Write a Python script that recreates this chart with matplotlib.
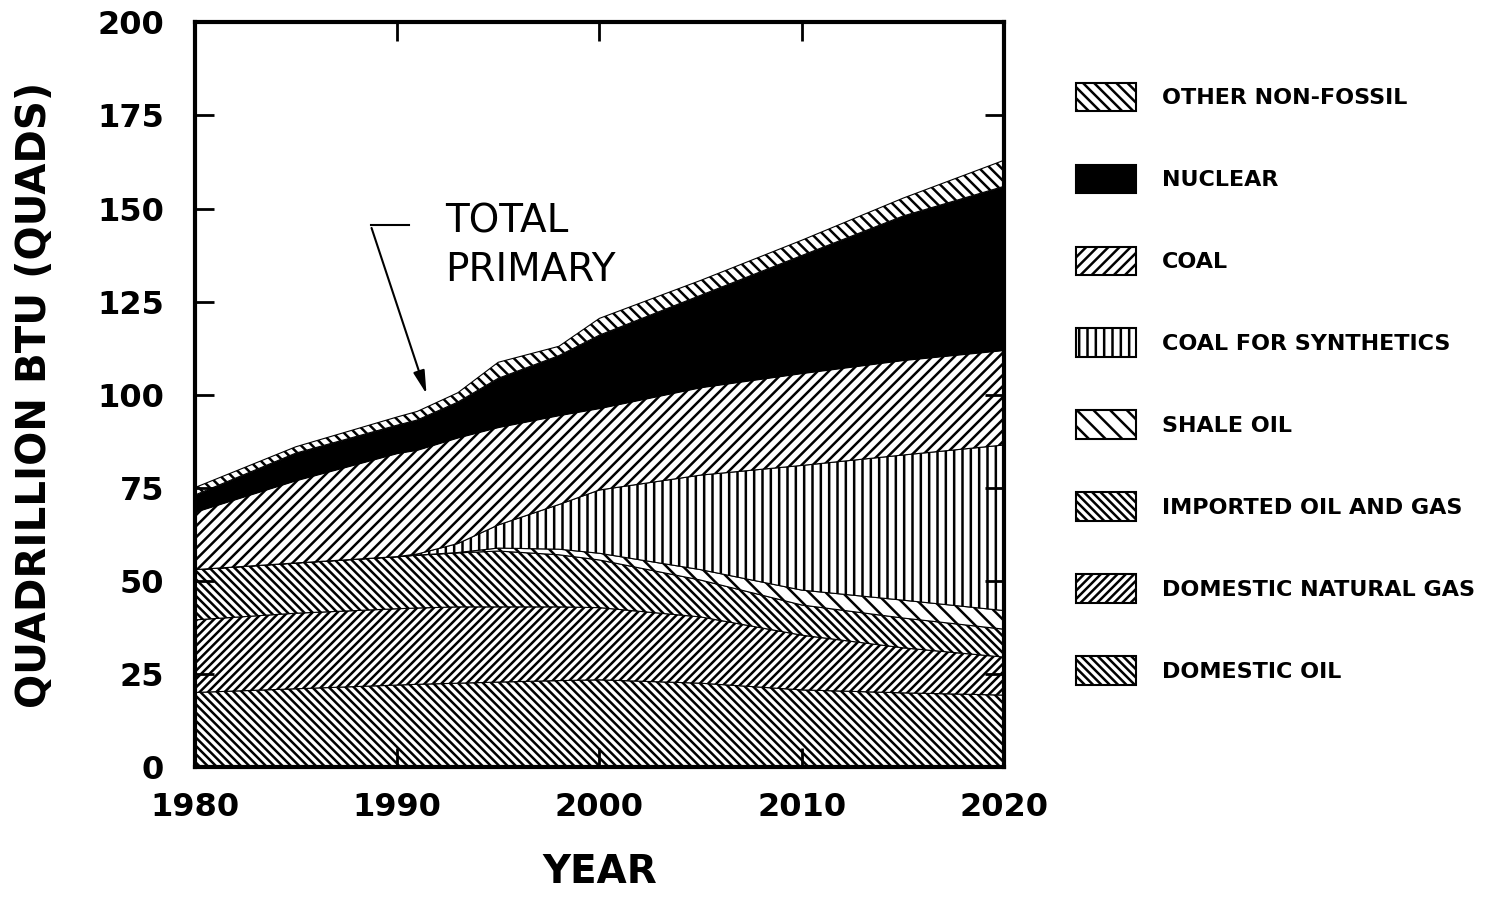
import numpy as np
import matplotlib
matplotlib.use("Agg")
from matplotlib import pyplot as plt

years = [1980, 1985, 1990, 1991, 1993, 1995, 1998, 2000, 2005, 2010, 2015, 2020]

domestic_oil = [20.0, 21.0, 22.0, 22.2, 22.5, 22.8, 23.2, 23.4, 22.5, 20.7, 19.9, 19.3]
domestic_gas = [19.5, 20.3, 20.5, 20.5, 20.5, 20.2, 19.8, 19.4, 17.8, 14.7, 12.1, 10.2]
imported_oil_gas = [13.5, 13.5, 14.0, 14.2, 14.5, 15.0, 14.0, 12.8, 9.9, 8.1, 8.0, 7.5]
shale_oil = [0.0, 0.0, 0.0, 0.0, 0.1, 0.8, 1.5, 1.8, 2.8, 4.0, 4.8, 5.0]
coal_synthetics = [0.0, 0.0, 0.0, 0.3, 2.4, 6.2, 12.0, 17.0, 25.4, 33.5, 39.0, 44.5]
coal = [15.5, 22.2, 27.8, 28.0, 28.5, 26.3, 24.0, 22.0, 23.6, 24.8, 25.5, 25.5]
nuclear = [4.5, 7.3, 7.5, 8.0, 9.5, 13.1, 16.0, 19.6, 24.7, 31.6, 38.7, 44.0]
other_non_fossil = [2.0, 1.7, 2.2, 2.3, 2.5, 4.3, 2.5, 4.5, 4.0, 4.1, 4.8, 7.0]

labels = ["DOMESTIC OIL", "DOMESTIC NATURAL GAS", "IMPORTED OIL AND GAS",
          "SHALE OIL", "COAL FOR SYNTHETICS", "COAL", "NUCLEAR", "OTHER NON-FOSSIL"]
hatches = ["\\" * 4, "/" * 4, "\\" * 4, "\\" * 2, "||", "///", None, "\\\\\\"]
facecolors = ["white"] * 6 + ["black", "white"]

x_ticks = [1980, 1990, 2000, 2010, 2020]
y_ticks = [0, 25, 50, 75, 100, 125, 150, 175, 200]

plt.rcParams["hatch.linewidth"] = 1.8
plt.rcParams["font.family"] = "DejaVu Sans"

fig = plt.figure(figsize=(15.08, 8.97), dpi=100)
ax = fig.add_axes([0.129, 0.145, 0.537, 0.83])

series = [domestic_oil, domestic_gas, imported_oil_gas, shale_oil,
          coal_synthetics, coal, nuclear, other_non_fossil]
polys = ax.stackplot(years, *series, labels=labels, colors=facecolors,
                     edgecolor="black", linewidth=0.8)
for p, h in zip(polys, hatches):
    if h:
        p.set_hatch(h)

ax.set_xlim(1980, 2020)
ax.set_ylim(0, 200)
ax.set_xticks(x_ticks)
ax.set_yticks(y_ticks)
ax.tick_params(direction="in", length=14, width=2, top=True, right=True,
               labelsize=23)
ax.tick_params(axis="x", pad=18)
ax.tick_params(axis="y", pad=22)
for lab in ax.get_xticklabels() + ax.get_yticklabels():
    lab.set_fontweight("bold")
for s in ax.spines.values():
    s.set_linewidth(3)

ax.set_xlabel("YEAR", fontsize=28, fontweight="bold", labelpad=22)
ax.set_ylabel("QUADRILLION BTU (QUADS)", fontsize=29, fontweight="bold", labelpad=30)

# total primary annotation
ax.text(1992.4, 146.5, "TOTAL", fontsize=28, va="center", ha="left")
ax.text(1992.4, 133.5, "PRIMARY", fontsize=28, va="center", ha="left")
ax.plot([1990.6, 1988.7], [145.5, 145.5], color="black", lw=1.5)
ax.annotate("", xy=(1991.5, 99.5), xytext=(1988.7, 145.5),
            arrowprops=dict(arrowstyle="-|>,head_length=1.4,head_width=0.35",
                            color="black", lw=1.5))

handles = polys[::-1]
leg = fig.legend(handles, labels[::-1], loc="upper left",
                 bbox_to_anchor=(0.7, 0.93), frameon=False,
                 prop={"size": 16, "weight": "bold"},
                 handlelength=2.7, handleheight=1.6, labelspacing=2.4,
                 handletextpad=1.2)
for h in leg.legend_handles:
    h.set_linewidth(1.5)

fig.savefig("out.png", dpi=100)
